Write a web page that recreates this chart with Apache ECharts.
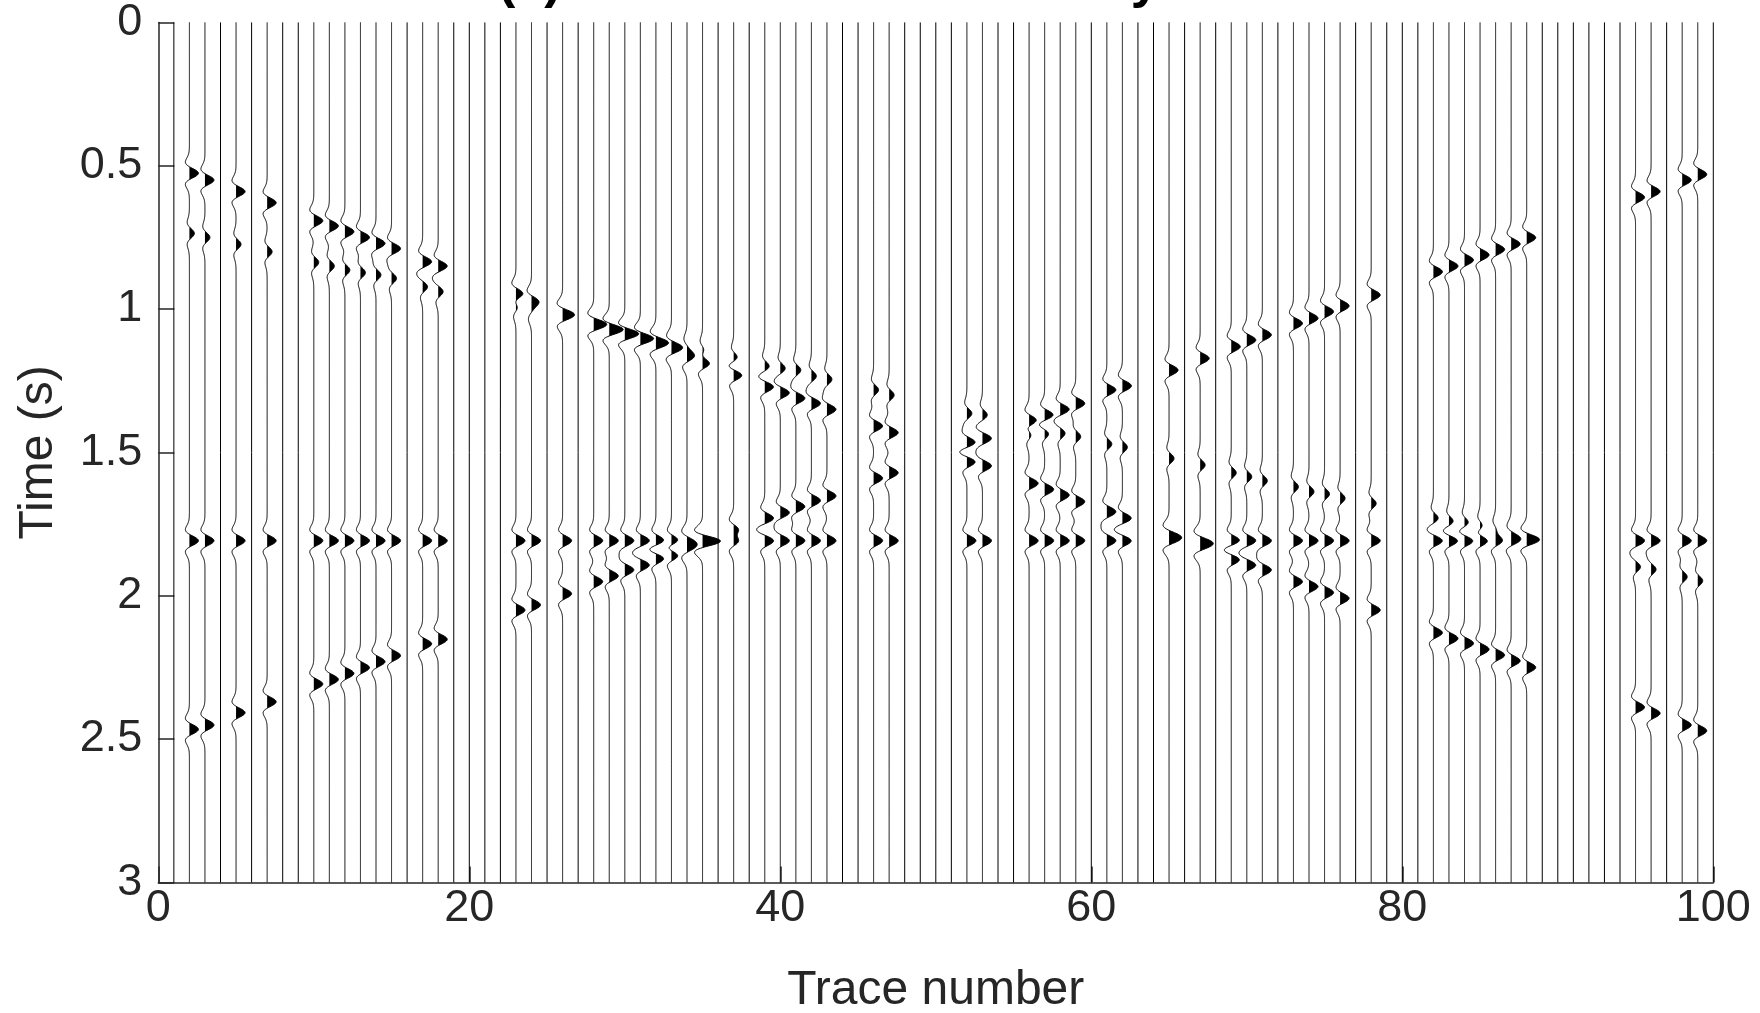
<!DOCTYPE html>
<html>
<head>
<meta charset="utf-8">
<script src="https://cdn.jsdelivr.net/npm/echarts@6/dist/echarts.min.js"></script>
<style>
  html, body { margin: 0; padding: 0; background: #ffffff; }
  #chart { width: 1760px; height: 1013px; }
</style>
</head>
<body>
<div id="chart"></div>
<script>
// ---- Gather geometry ----
const traceCount = 100;          // trace numbers 1..100
const timeMax = 3;               // seconds
const xTicks = [0, 20, 40, 60, 80, 100];
const yTicks = [0, 0.5, 1, 1.5, 2, 2.5, 3];

// Traces that carry data (the rest are zero / missing traces)
const liveTraces = [2, 3, 5, 7, 10, 11, 12, 13, 14, 15, 17, 18, 23, 24, 26,
  28, 29, 30, 31, 32, 33, 34, 35, 37, 39, 40, 41, 42, 43, 46, 47, 52, 53,
  56, 57, 58, 59, 61, 62, 65, 67, 69, 70, 71, 73, 74, 75, 76, 78,
  82, 83, 84, 85, 86, 87, 88, 95, 96, 98, 99];

// Upper curved reflection, arrival time (s) on each live trace
const eventA = [0.526, 0.550, 0.590, 0.629, 0.692, 0.710, 0.730, 0.750, 0.771, 0.789,
  0.835, 0.850, 0.947, 0.972, 1.015, 1.050, 1.071, 1.087, 1.106, 1.122, 1.140, 1.166, 1.189,
  1.230, 1.271, 1.292, 1.311, 1.329, 1.350, 1.408, 1.431, 1.466, 1.451,
  1.389, 1.370, 1.350, 1.329, 1.282, 1.268, 1.213, 1.172, 1.131, 1.108, 1.090,
  1.050, 1.032, 1.009, 0.989, 0.951, 0.870, 0.850, 0.829, 0.811, 0.792, 0.773, 0.751,
  0.610, 0.590, 0.550, 0.530];

// Weaker dipping reflection
const eventB = [0.736, 0.750, 0.774, 0.800, 0.837, 0.850, 0.864, 0.873, 0.881, 0.893,
  0.922, 0.939, 0.990, 1.003, 1.030, 1.060, 1.072, 1.085, 1.097, 1.110, 1.122, 1.135, 1.147,
  1.171, 1.201, 1.207, 1.213, 1.234, 1.245, 1.282, 1.300, 1.364, 1.370,
  1.435, 1.433, 1.433, 1.445, 1.471, 1.482, 1.521, 1.544, 1.571, 1.585, 1.599,
  1.620, 1.637, 1.645, 1.660, 1.678, 1.730, 1.742, 1.747, 1.760, 1.772, 1.785, 1.797,
  1.899, 1.908, 1.934, 1.948];

// Lower curved reflection
const eventC = [2.466, 2.451, 2.408, 2.370, 2.308, 2.292, 2.271, 2.251, 2.230, 2.209,
  2.168, 2.152, 2.050, 2.032, 1.993, 1.951, 1.931, 1.910, 1.893, 1.869, 1.858, 1.834, 1.811,
  1.770, 1.730, 1.710, 1.689, 1.668, 1.652, 1.590, 1.571, 1.532, 1.547,
  1.608, 1.629, 1.649, 1.672, 1.707, 1.730, 1.787, 1.828, 1.873, 1.893, 1.910,
  1.951, 1.968, 1.989, 2.009, 2.050, 2.129, 2.149, 2.166, 2.187, 2.207, 2.227, 2.250,
  2.389, 2.410, 2.451, 2.471];

// Flat reflection time (s), present on every live trace
const flatEventTime = 1.808;

// Relative amplitudes of the four events
const amplitudes = { A: 1.0, B: 0.55, C: 1.0, flat: 1.0 };

// ---- Wiggle display settings ----
const wavelet = { freq: 10, dt: 0.002, peakWidth: 0.58 }; // peak deflection in trace units

function ricker(tau) {
  const a = Math.PI * wavelet.freq * tau;
  const a2 = a * a;
  return (1 - 2 * a2) * Math.exp(-a2);
}

const eventsByTrace = {};
liveTraces.forEach(function (n, i) {
  eventsByTrace[n] = [
    [eventA[i], amplitudes.A],
    [eventB[i], amplitudes.B],
    [eventC[i], amplitudes.C],
    [flatEventTime, amplitudes.flat]
  ];
});

const traceData = [];
for (let n = 1; n <= traceCount; n++) traceData.push([n]);

function renderTrace(params, api) {
  const n = api.value(0);
  const ev = eventsByTrace[n];
  if (!ev) {
    const p0 = api.coord([n, 0]);
    const p1 = api.coord([n, timeMax]);
    return {
      type: 'line',
      shape: { x1: p0[0], y1: p0[1], x2: p1[0], y2: p1[1] },
      style: { stroke: '#000', lineWidth: 1 }
    };
  }
  const line = [];
  const fill = [];
  const steps = Math.round(timeMax / wavelet.dt);
  for (let k = 0; k <= steps; k++) {
    const t = k * wavelet.dt;
    let s = 0;
    for (let j = 0; j < ev.length; j++) {
      const d = t - ev[j][0];
      if (Math.abs(d) < 0.2) s += ev[j][1] * ricker(d);
    }
    s *= wavelet.peakWidth;
    line.push(api.coord([n + s, t]));
    fill.push(api.coord([n + Math.max(s, 0), t]));
  }
  fill.push(api.coord([n, timeMax]));
  fill.push(api.coord([n, 0]));
  return {
    type: 'group',
    children: [
      { type: 'polygon', shape: { points: fill }, style: { fill: '#000', stroke: null } },
      { type: 'polyline', shape: { points: line }, style: { stroke: '#000', lineWidth: 1, fill: null } }
    ]
  };
}

const axisColor = '#262626';
const fontFamily = 'Liberation Sans, Arial, Helvetica, sans-serif';

const chart = echarts.init(document.getElementById('chart'), null, { renderer: 'canvas' });
chart.setOption({
  backgroundColor: '#ffffff',
  animation: false,
  graphic: [{
    type: 'text',
    left: 498,
    top: -43,
    style: {
      text: '(a) 40% of traces randomly removed',
      font: 'bold 52px ' + fontFamily,
      fill: '#000'
    }
  }],
  grid: {
    left: 158.3, right: 46.7, top: 22.4, bottom: 130.6,
    containLabel: false,
    outerBoundsMode: 'none'
  },
  xAxis: {
    type: 'value',
    min: xTicks[0],
    max: xTicks[xTicks.length - 1],
    interval: xTicks[1] - xTicks[0],
    name: 'Trace number',
    nameLocation: 'middle',
    nameGap: 84,
    nameTextStyle: { color: axisColor, fontSize: 48, fontFamily: fontFamily },
    axisLine: { show: true, onZero: false, lineStyle: { color: axisColor, width: 1.5 } },
    axisTick: { show: true, inside: true, length: 16, lineStyle: { color: axisColor, width: 1.5 } },
    axisLabel: { color: axisColor, fontSize: 45, fontFamily: fontFamily, margin: 4, showMinLabel: true, showMaxLabel: true },
    splitLine: { show: false }
  },
  yAxis: {
    type: 'value',
    inverse: true,
    min: yTicks[0],
    max: yTicks[yTicks.length - 1],
    interval: yTicks[1] - yTicks[0],
    name: 'Time (s)',
    nameLocation: 'middle',
    nameGap: 96,
    nameTextStyle: { color: axisColor, fontSize: 48, fontFamily: fontFamily },
    axisLine: { show: true, onZero: false, lineStyle: { color: axisColor, width: 1.5 } },
    axisTick: { show: true, inside: true, length: 16, lineStyle: { color: axisColor, width: 1.5 } },
    axisLabel: { color: axisColor, fontSize: 45, fontFamily: fontFamily, margin: 16, showMinLabel: true, showMaxLabel: true },
    splitLine: { show: false }
  },
  series: [{
    type: 'custom',
    renderItem: renderTrace,
    data: traceData,
    clip: false,
    silent: true
  }]
});
</script>
</body>
</html>
